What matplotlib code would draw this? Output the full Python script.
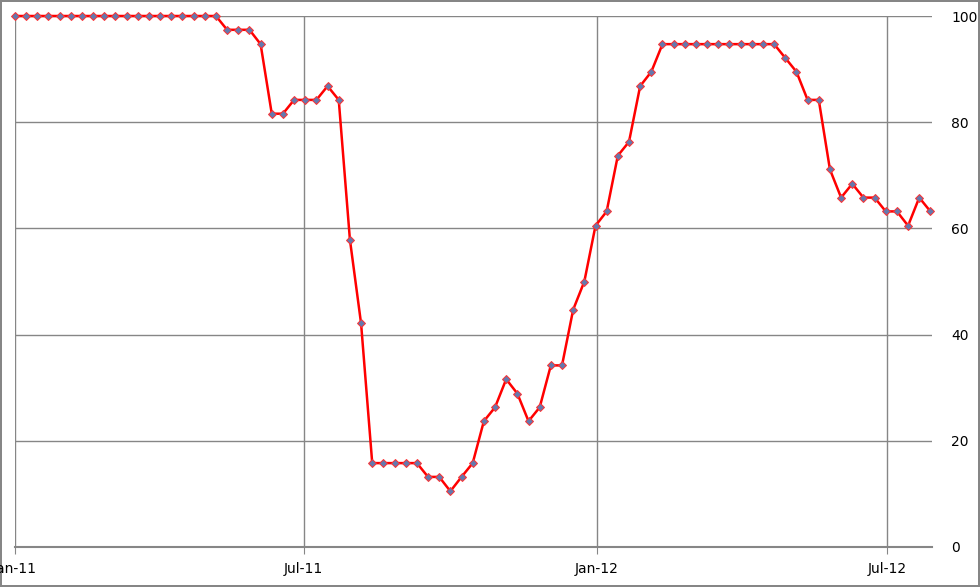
import numpy as np
import pandas as pd
import matplotlib
matplotlib.use("Agg")
import matplotlib.pyplot as plt
import matplotlib.dates as mdates

# weekly observations, Jan 2011 .. Jul 2012
start_date = "2011-01-01"
n_weeks = 83
values = [
    100, 100, 100, 100, 100, 100, 100, 100, 100, 100,
    100, 100, 100, 100, 100, 100, 100, 100, 100, 97.4,
    97.4, 97.4, 94.7, 81.6, 81.6, 84.2, 84.2, 84.2, 86.8, 84.2,
    57.9, 42.1, 15.8, 15.8, 15.8, 15.8, 15.8, 13.2, 13.2, 10.5,
    13.2, 15.8, 23.7, 26.3, 31.6, 28.9, 23.7, 26.3, 34.2, 34.2,
    44.7, 50.0, 60.5, 63.2, 73.7, 76.3, 86.8, 89.5, 94.7, 94.7,
    94.7, 94.7, 94.7, 94.7, 94.7, 94.7, 94.7, 94.7, 94.7, 92.1,
    89.5, 84.2, 84.2, 71.1, 65.8, 68.4, 65.8, 65.8, 63.2, 63.2,
    60.5, 65.8, 63.2,
]
tick_dates = ["2011-01-01", "2011-07-01", "2012-01-01", "2012-07-01"]
y_ticks = [0, 20, 40, 60, 80, 100]

dates = pd.date_range(start_date, periods=n_weeks, freq="7D")

grid_col = "#868686"

fig = plt.figure(figsize=(9.8, 5.87), dpi=100)
fig.patch.set_edgecolor(grid_col)
fig.patch.set_linewidth(1.5)
ax = fig.add_axes([15/980, 40/587, (932-15)/980, (547-16)/587])

ax.plot(dates, values, color="#FF0000", lw=1.8, marker="D", ms=3.8,
        mfc="#6479AE", mec="#FF3030", mew=0.7, zorder=3, clip_on=False)

ax.set_xlim(pd.Timestamp("2011-01-01"), pd.Timestamp("2012-07-29"))
ax.set_ylim(0, 100)
ax.set_xticks(pd.to_datetime(tick_dates))
ax.xaxis.set_major_formatter(mdates.DateFormatter("%b-%y"))
ax.set_yticks(y_ticks)

ax.yaxis.tick_right()
ax.tick_params(axis="y", length=0, pad=14, labelsize=10)
ax.tick_params(axis="x", length=5, color=grid_col, pad=6, labelsize=10)
ax.grid(True, color=grid_col, lw=1)
for s in ["top", "right", "left"]:
    ax.spines[s].set_visible(False)
ax.spines["bottom"].set_color(grid_col)
ax.spines["bottom"].set_linewidth(1.5)
ax.set_axisbelow(True)

fig.savefig("out.png", dpi=100, edgecolor=fig.get_edgecolor())
